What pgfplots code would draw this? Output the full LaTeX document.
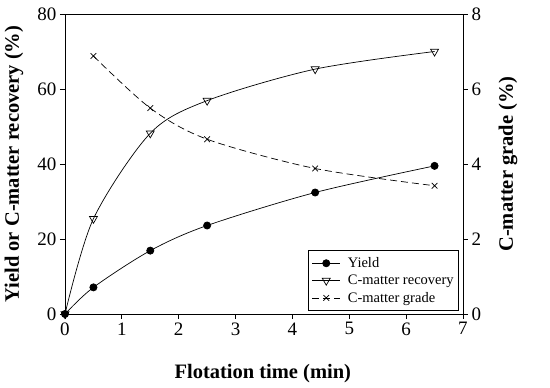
\documentclass[border=0pt]{standalone}
\usepackage{pgfplots}
\pgfplotsset{compat=1.18}
\usepackage{fontspec}
\setmainfont{Liberation Serif}
\begin{document}
\begin{tikzpicture}
\pgfplotsset{
  common/.style={
    width=398pt, height=300pt, scale only axis,
    xmin=0, xmax=7,
    tick align=outside,
    major tick length=5pt,
    /pgf/number format/assume math mode=true,
    tick label style={font=\fontsize{19}{19}\selectfont},
    label style={font=\fontsize{20.5}{22}\selectfont\bfseries},
    axis line style={line width=0.8pt},
    every tick/.style={line width=0.8pt, black},
    legend image code/.code={\draw[mark repeat=2,mark phase=2,##1] plot coordinates {(0cm,0cm) (0.5cm,0cm) (1cm,0cm)};},
  }
}
\begin{axis}[common,
  ymin=0, ymax=80,
  xtick={0,1,...,7}, ytick={0,20,40,60,80},
  xtick pos=bottom, ytick pos=left,
  xlabel={Flotation time (min)},
  ylabel={Yield or C-matter recovery (\%)},
  xlabel style={at={(axis description cs:0.497,-0.197)}, anchor=center},
  ylabel style={at={(axis description cs:-0.128,0.5)}, anchor=center},
]
\coordinate (o) at (rel axis cs:0,0);
\addplot[black, line width=0.7pt, smooth, mark=*, mark size=3.6pt, mark options={fill=black}]
  coordinates {(0,0) (0.5,7.1) (1.5,16.9) (2.5,23.6) (4.4,32.4) (6.5,39.5)};
\addplot[black, line width=0.7pt, smooth, mark=triangle, mark size=4.6pt, mark options={fill=white, rotate=180, solid}]
  coordinates {(0,0) (0.5,25.4) (1.5,48.2) (2.5,56.9) (4.4,65.3) (6.5,70.0)};
\end{axis}
\begin{axis}[common,
  ymin=0, ymax=8,
  ytick={0,2,4,6,8},
  axis x line=none,
  axis y line*=right,
  ytick pos=right,
  ylabel={C-matter grade (\%)},
  ylabel style={at={(axis description cs:1.113,0.5)}, anchor=center, rotate=0},
  legend style={at={(rel axis cs:0.99,0.01)}, anchor=south east,
    font=\fontsize{14.5}{17}\selectfont, draw=black, line width=0.6pt,
    cells={anchor=west}, row sep=2pt, column sep=5pt, inner xsep=3pt, inner ysep=5pt},
]
\addlegendimage{black, line width=0.7pt, mark=*, mark size=3.6pt, mark options={fill=black}}
\addlegendentry{Yield}
\addlegendimage{black, line width=0.7pt, mark=triangle, mark size=4.6pt, mark options={fill=white, rotate=180, solid}}
\addlegendentry{C-matter recovery}
\addplot[black, line width=0.7pt, smooth, dash pattern=on 7pt off 4pt, mark=x, mark size=4pt, mark options={solid}]
  coordinates {(0.5,6.88) (1.5,5.49) (2.5,4.66) (4.4,3.88) (6.5,3.42)};
\addlegendentry{C-matter grade}
\end{axis}
\path (o) ++(-65pt,-74pt) rectangle ++(550pt,388pt);
\end{tikzpicture}
\end{document}
